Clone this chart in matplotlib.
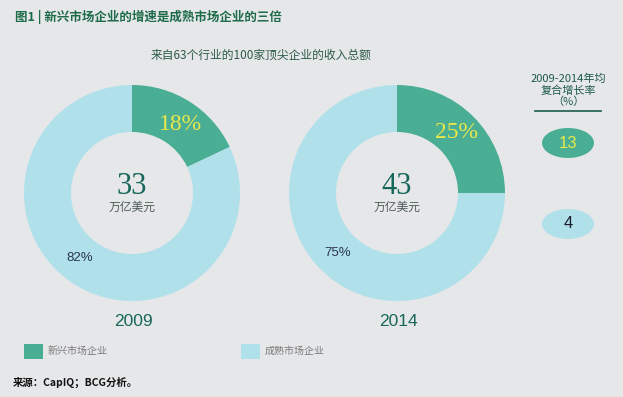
import matplotlib
matplotlib.use("Agg")
import matplotlib.pyplot as plt
from matplotlib.patches import Ellipse, Rectangle
from matplotlib.lines import Line2D

plt.rcParams['font.family'] = ['Noto Sans CJK SC', 'DejaVu Sans']

# ---- data ----
years = ["2009", "2014"]
totals = ["33", "43"]
emerging_share = [18, 25]
mature_share = [82, 75]
growth_labels = ["新兴市场企业", "成熟市场企业"]
growth_rates = [13, 4]
title = "图1 | 新兴市场企业的增速是成熟市场企业的三倍"
subtitle = "来自63个行业的100家顶尖企业的收入总额"
unit = "万亿美元"
source = "来源：CapIQ；BCG分析。"
growth_header = ["2009-2014年均", "复合增长率", "（%）"]

BG = "#e6e7e9"
GREEN = "#4aae94"
LIGHT = "#b0e1ea"
DARK_GREEN = "#1e6b4a"
YELLOW = "#e9e84a"

W, H = 623, 397
fig = plt.figure(figsize=(W / 100, H / 100), dpi=100, facecolor=BG)
ax = fig.add_axes([0, 0, 1, 1])
ax.set_facecolor(BG)


def Y(y):
    return H - y


centers = [(132, 193), (397, 193)]
R_OUT, R_IN = 108, 61
big_pos = [(180, 125), (456, 133)]
small_pos = [(80, 258), (338, 253)]

for i in range(2):
    cx, cy = centers[i]
    ax.pie([emerging_share[i], mature_share[i]], colors=[GREEN, LIGHT],
           startangle=90, counterclock=False, radius=R_OUT,
           center=(cx, Y(cy)), frame=True,
           wedgeprops=dict(width=R_OUT - R_IN, edgecolor='none'))
    ax.text(cx, Y(cy - 7), totals[i], ha='center', va='center',
            fontsize=22, color="#17675a", family='Liberation Serif')
    ax.text(cx, Y(cy + 14), unit, ha='center', va='center',
            fontsize=8.5, color="#4d5c57")
    bx, by = big_pos[i]
    ax.text(bx, Y(by), f"{emerging_share[i]}%", ha='center', va='center',
            fontsize=17, color=YELLOW, family='Liberation Serif')
    sx, sy = small_pos[i]
    ax.text(sx, Y(sy), f"{mature_share[i]}%", ha='center', va='center',
            fontsize=9.5, color="#2b3550", family='Liberation Sans')
    ax.text(cx + 1, Y(321), years[i], ha='center', va='center',
            fontsize=12.5, color="#17675a", family='Liberation Sans')

# growth column
ell_y = [143, 224]
ell_col = [GREEN, LIGHT]
txt_col = [YELLOW, "#1a1a2a"]
for i in range(2):
    ax.add_patch(Ellipse((568, Y(ell_y[i])), 52, 30, facecolor=ell_col[i],
                         edgecolor='none'))
    ax.text(568, Y(ell_y[i]), str(growth_rates[i]), ha='center', va='center',
            fontsize=12, color=txt_col[i], family='Liberation Sans')

for k, (t, yy) in enumerate(zip(growth_header, [79, 91, 102])):
    ax.text(568, Y(yy), t, ha='center', va='center', fontsize=8,
            color="#1e5a4a")
ax.add_line(Line2D([535, 601], [Y(111), Y(111)], color="#1e5a4a", lw=1.2))

# title etc.
ax.text(15, Y(17), title, ha='left', va='center', fontsize=9,
        fontweight='bold', color=DARK_GREEN)
ax.text(261, Y(55), subtitle, ha='center', va='center', fontsize=8.5,
        color="#2c5a48")

# legend
leg_x = [24, 241]
for i in range(2):
    ax.add_patch(Rectangle((leg_x[i], Y(359)), 19, 15,
                           facecolor=[GREEN, LIGHT][i], edgecolor='none'))
    ax.text(leg_x[i] + 24, Y(351), growth_labels[i], ha='left', va='center',
            fontsize=7.2, color="#7a7a7a")

ax.text(13, Y(382), source, ha='left', va='center', fontsize=7.5,
        fontweight='bold', color="#111111")

ax.set_xlim(0, W)
ax.set_ylim(0, H)
ax.set_aspect('equal')
ax.axis('off')

fig.savefig("out.png", dpi=100, facecolor=BG)
